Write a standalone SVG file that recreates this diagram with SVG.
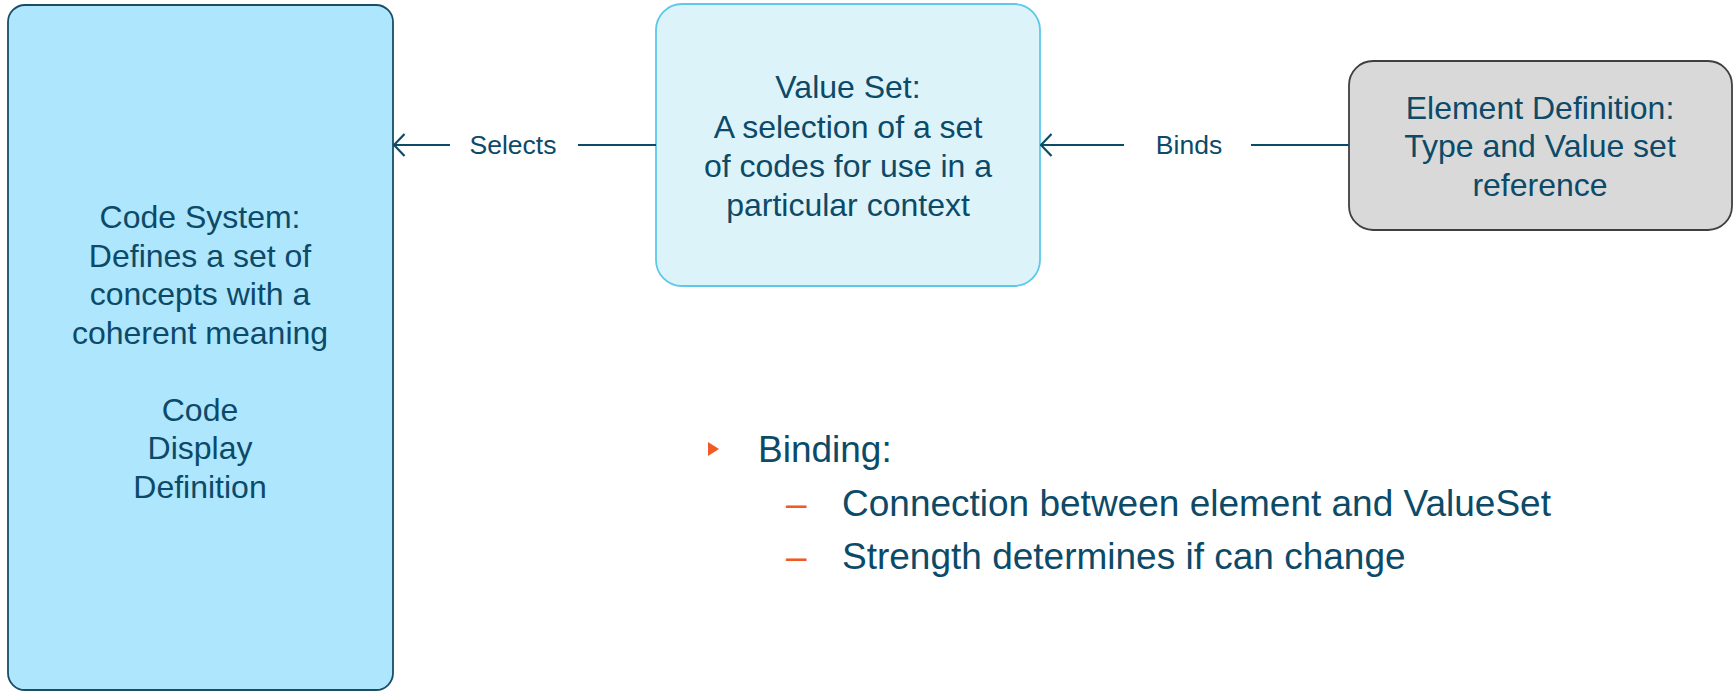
<svg xmlns="http://www.w3.org/2000/svg" width="1735" height="692" viewBox="0 0 1735 692">
<defs>
<style>
.t{font-family:"Liberation Sans",Arial,sans-serif;fill:#0C4A68;text-anchor:middle}
.box{font-size:32px}
.lbl{font-size:26.5px}
.bul{font-family:"Liberation Sans",Arial,sans-serif;fill:#0C4A68;font-size:37px}
.dash{font-family:"Liberation Sans",Arial,sans-serif;fill:#F05A24;font-size:37px}
.conn{stroke:#0C4A68;stroke-width:2.2;fill:none}
</style>
<marker id="arr" viewBox="0 0 14 24" refX="12.5" refY="12" markerWidth="14" markerHeight="24" markerUnits="userSpaceOnUse" orient="auto">
<path d="M2,1 L12.5,12 L2,23" fill="none" stroke="#0C4A68" stroke-width="2.2"/>
</marker>
</defs>
<rect width="1735" height="692" fill="#FFFFFF"/>
<g id="code-system">
<rect x="8" y="5" width="385" height="685" rx="17" fill="#AEE6FD" stroke="#1A4E66" stroke-width="1.8"/>
<text class="t box"><tspan x="200" y="228">Code System:</tspan><tspan x="200" y="266.5">Defines a set of</tspan><tspan x="200" y="305">concepts with a</tspan><tspan x="200" y="343.5">coherent meaning</tspan><tspan x="200" y="420.5">Code</tspan><tspan x="200" y="459">Display</tspan><tspan x="200" y="497.5">Definition</tspan></text>
</g>
<g id="value-set">
<rect x="656" y="4" width="384" height="282" rx="26" fill="#DDF3FA" stroke="#5CC8EA" stroke-width="1.8"/>
<text class="t box"><tspan x="848" y="98">Value Set:</tspan><tspan x="848" y="138">A selection of a set</tspan><tspan x="848" y="177">of codes for use in a</tspan><tspan x="848" y="216">particular context</tspan></text>
</g>
<g id="element-definition">
<rect x="1349" y="61" width="383" height="169" rx="24" fill="#D9D9D9" stroke="#3F3F3F" stroke-width="1.8"/>
<text class="t box"><tspan x="1540" y="119">Element Definition:</tspan><tspan x="1540" y="157">Type and Value set</tspan><tspan x="1540" y="196">reference</tspan></text>
</g>
<g id="connectors">
<line class="conn" x1="450" y1="145" x2="394" y2="145" marker-end="url(#arr)"/>
<line class="conn" x1="578" y1="145" x2="656" y2="145"/>
<text class="t lbl" x="513" y="154">Selects</text>
<line class="conn" x1="1124" y1="145" x2="1041" y2="145" marker-end="url(#arr)"/>
<line class="conn" x1="1251" y1="145" x2="1349" y2="145"/>
<text class="t lbl" x="1189" y="154">Binds</text>
</g>
<g id="bullets">
<polygon points="708,442 719,449 708,456" fill="#F05A24"/>
<text class="bul" x="758" y="462">Binding:</text>
<text class="dash" x="786" y="516">–</text>
<text class="bul" x="842" y="516">Connection between element and ValueSet</text>
<text class="dash" x="786" y="569">–</text>
<text class="bul" x="842" y="569">Strength determines if can change</text>
</g>
</svg>
